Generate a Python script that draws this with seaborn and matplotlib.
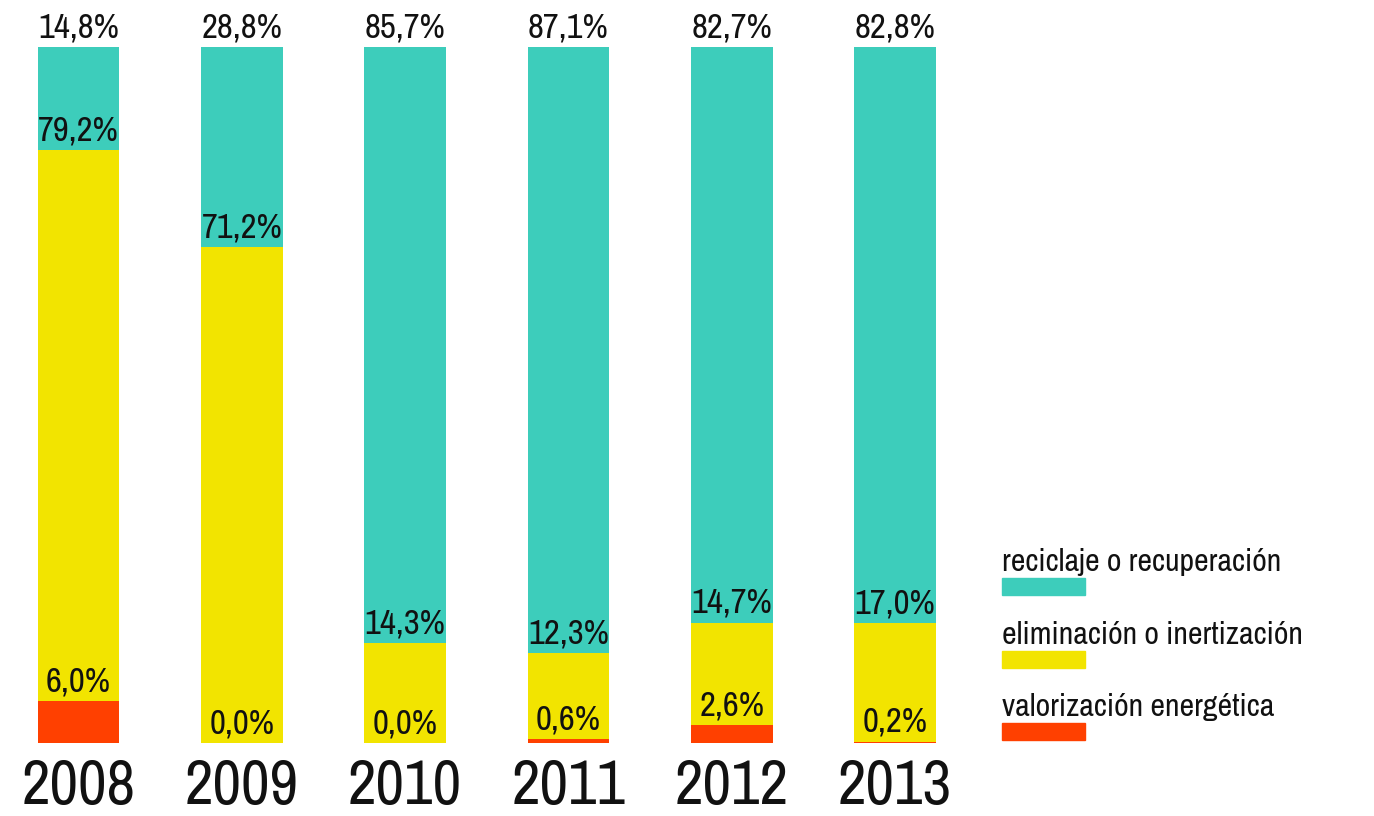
import matplotlib
matplotlib.use("Agg")
import matplotlib.pyplot as plt
from matplotlib import font_manager
import seaborn as sns
import pandas as pd
from matplotlib.patches import Rectangle

years = ["2008", "2009", "2010", "2011", "2012", "2013"]
reciclaje = [14.8, 28.8, 85.7, 87.1, 82.7, 82.8]
eliminacion = [79.2, 71.2, 14.3, 12.3, 14.7, 17.0]
valorizacion = [6.0, 0.0, 0.0, 0.6, 2.6, 0.2]
series_names = ["reciclaje o recuperación", "eliminación o inertización", "valorización energética"]
colors = ["#3dcdbb", "#f2e400", "#ff4000"]

sns.set_style("white")

# look for a narrow face among the installed fonts
narrow = None
for f in font_manager.fontManager.ttflist:
    if ("Narrow" in f.name or "Condensed" in f.name) and f.weight in (400, "normal", "regular"):
        narrow = (f.name, "normal")
        break
if narrow is None:
    for f in font_manager.fontManager.ttflist:
        if f.name in ("DejaVu Sans", "Noto Sans", "Open Sans", "Roboto") and \
                str(f.stretch) in ("condensed", "semi-condensed", "500", "300", "375", "extra-condensed") \
                and f.weight in (400, "normal", "regular") and f.style == "normal":
            narrow = (f.name, f.stretch)
            break

if narrow is not None:
    plt.rcParams['font.family'] = [narrow[0], 'DejaVu Sans']
    plt.rcParams['font.stretch'] = narrow[1]
    s_val, s_year, s_leg = 25, 45, 23
else:
    plt.rcParams['font.family'] = ['DejaVu Sans']
    s_val, s_year, s_leg = 19, 33, 17

df = pd.DataFrame({"year": years, "rec": reciclaje, "eli": eliminacion, "val": valorizacion})
df["top_val"] = df["val"]
df["top_eli"] = df["val"] + df["eli"]
df["top_rec"] = df["top_eli"] + df["rec"]

fig = plt.figure(figsize=(13.74, 8.16), dpi=100)
unit = 163.3
x0 = -78.5 / unit
ax = fig.add_axes([0, 73 / 816, 1, 696 / 816])

# stacked by overlaying cumulative totals
for col, c in zip(["top_rec", "top_eli", "top_val"], colors):
    sns.barplot(data=df, x="year", y=col, color=c, width=0.5, ax=ax,
                saturation=1, linewidth=0, order=years)

ax.set_xlim(x0, x0 + 1374 / unit)
ax.set_ylim(0, 100)

# value labels at top of each segment
for i in range(len(years)):
    for val, top in [(df["val"][i], df["top_val"][i]),
                     (df["eli"][i], df["top_eli"][i]),
                     (df["rec"][i], df["top_rec"][i])]:
        ax.annotate(f"{val:.1f}%".replace(".", ","), (i, top), xytext=(0, 7),
                    textcoords="offset points", ha="center", va="baseline",
                    fontsize=s_val, color="#111111", annotation_clip=False)

ax.set_xticks(range(len(years)))
ax.set_xticklabels(years, fontsize=s_year, color="#111111")
ax.tick_params(axis="x", length=0, pad=11)
ax.set_yticks([])
ax.set_xlabel("")
ax.set_ylabel("")
sns.despine(ax=ax, left=True, bottom=True)

# legend
for k, (name, c) in enumerate(zip(series_names, colors)):
    yb = 816 - (571 + 72.5 * k)
    fig.text(1002 / 1374, yb / 816, name, fontsize=s_leg, ha="left", va="baseline", color="#111111")
    fig.patches.append(Rectangle((1002 / 1374, (816 - 595 - 72.5 * k) / 816), 83 / 1374, 17 / 816,
                                 transform=fig.transFigure, color=c, figure=fig))

fig.savefig("out.png", dpi=100)
